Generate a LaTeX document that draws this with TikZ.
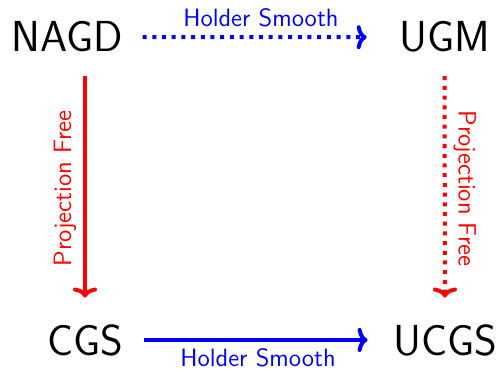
\documentclass[tikz,border=0pt]{standalone}
\usepackage{amsmath}
\usetikzlibrary{positioning, arrows.meta}

\begin{document}
\begin{tikzpicture}[>={To[length=5pt, width=12pt, round]}]
    % Styles
    \tikzset{
        method/.style={font=\sffamily\fontsize{21.7}{26}\selectfont, anchor=base},
        link/.style={line width=2pt},
        dotted_link/.style={link, dash pattern=on 2pt off 2.85pt},
        label_text/.style={font=\sffamily\fontsize{12.55}{15}\selectfont}
    }

    \useasboundingbox (0,0) rectangle (250.5pt,185pt);

    % --- Nodes ---

    % Top row
    \node[method] (nagd) at (33.5pt,159pt) {NAGD};
    \node[method] (ugm) at (222.25pt,159pt) {UGM};

    % Bottom row
    \node[method] (cgs) at (42.5pt,7.5pt) {CGS};
    \node[method] (ucgs) at (222.5pt,7.5pt) {UCGS};

    % --- Connections ---

    % Holder smooth (horizontal)
    \draw[->, dotted_link, blue, shorten <=6.4pt, shorten >=12.7pt] (nagd.east) -- node[label_text, above, inner sep=4pt] {Holder Smooth} (ugm.west);
    \draw[->, link, blue, shorten <=7.2pt, shorten >=9.2pt] (cgs.east) -- node[label_text, below] {Holder Smooth} (ucgs.west);

    % Projection free (vertical)
    \draw[->, link, red, shorten <=8.2pt, shorten >=9.8pt] (nagd.south -| cgs.north) -- node[label_text, rotate=90, anchor=south] {Projection Free} (cgs.north);
    \draw[->, dotted_link, red, shorten <=8.2pt, shorten >=9.8pt] (ugm.south) -- node[label_text, rotate=-90, anchor=south] {Projection Free} (ucgs.north);

\end{tikzpicture}
\end{document}
